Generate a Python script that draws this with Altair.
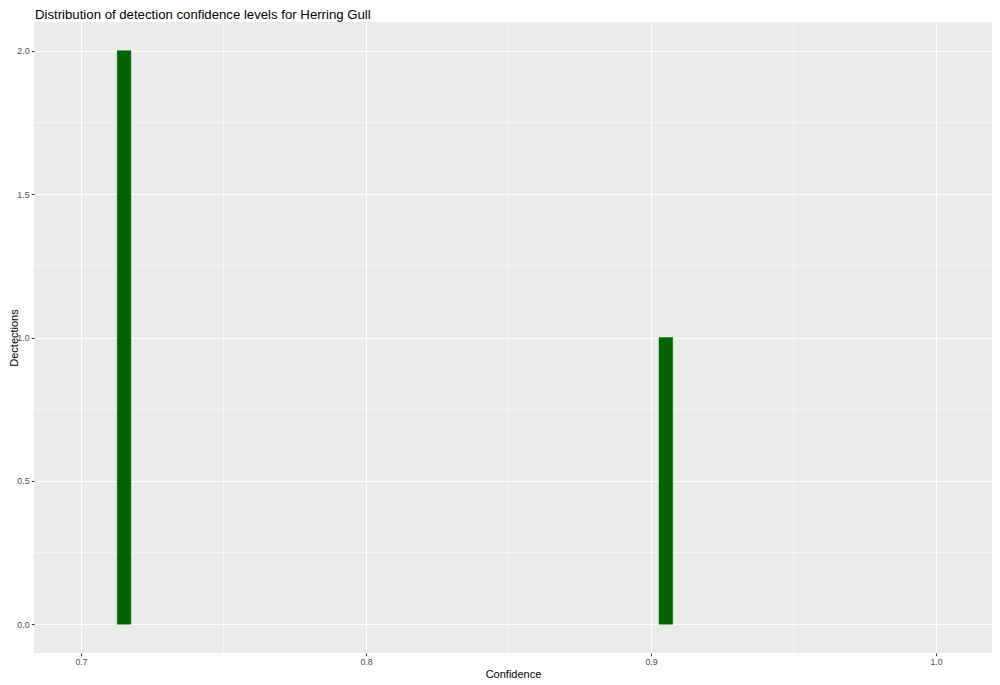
import altair as alt
import pandas as pd

bin_start = [0.7127, 0.9028]
bin_end = [0.7175, 0.9076]
counts = [2, 1]

x_major = [0.7, 0.8, 0.9, 1.0]
x_minor = [0.75, 0.85, 0.95]
y_major = [0.0, 0.5, 1.0, 1.5, 2.0]
y_minor = [0.25, 0.75, 1.25, 1.75]

X_DOMAIN = [0.6835, 1.01964]
Y_DOMAIN = [-0.1, 2.1]

bars = pd.DataFrame({"start": bin_start, "end": bin_end, "count": counts})
mx = pd.DataFrame({"v": x_minor})
my = pd.DataFrame({"v": y_minor})

FONT = "Liberation Sans"

xscale = alt.Scale(domain=X_DOMAIN, nice=False, zero=False)
yscale = alt.Scale(domain=Y_DOMAIN, nice=False, zero=False)
xaxis = alt.Axis(values=x_major, format=".1f", title="Confidence")
yaxis = alt.Axis(values=y_major, format=".1f", title="Dectections",
                 titleX=-17, titleBaseline="alphabetic")

minor_x = alt.Chart(mx).mark_rule(color="white", strokeWidth=0.53).encode(
    x=alt.X("v:Q", scale=xscale, axis=xaxis)
)
minor_y = alt.Chart(my).mark_rule(color="white", strokeWidth=0.53).encode(
    y=alt.Y("v:Q", scale=yscale, axis=yaxis)
)

hist = alt.Chart(bars).mark_rect(color="#006400", stroke="#0f6f0f", strokeWidth=0.5).encode(
    x=alt.X("start:Q", scale=xscale, axis=xaxis),
    x2="end:Q",
    y=alt.Y("count:Q", scale=yscale, axis=yaxis),
    y2=alt.datum(0),
)

chart = alt.layer(minor_x, minor_y, hist).properties(
    width=958,
    height=631,
    autosize="none",
    padding={"left": 26, "top": 14, "right": 0, "bottom": 32},
    title=alt.TitleParams(
        "Distribution of detection confidence levels for Herring Gull",
        anchor="start", frame="group", font=FONT, fontSize=13.2,
        fontWeight="normal", color="black", offset=0, baseline="alphabetic",
        dx=1, dy=10,
    ),
).configure_view(
    fill="#EBEBEB", stroke=None
).configure_axis(
    grid=True, gridColor="white", gridWidth=1.07,
    domain=False,
    tickColor="#333333", tickSize=2.7, tickWidth=1.07,
    labelColor="#4D4D4D", labelFont=FONT, labelFontSize=8.8, labelPadding=2.2,
    titleFont=FONT, titleFontSize=11, titleFontWeight="normal", titleColor="black",
).configure_axisX(
    titlePadding=2,
)

chart.save("out.html", embed_options={"renderer": "svg", "actions": False})
